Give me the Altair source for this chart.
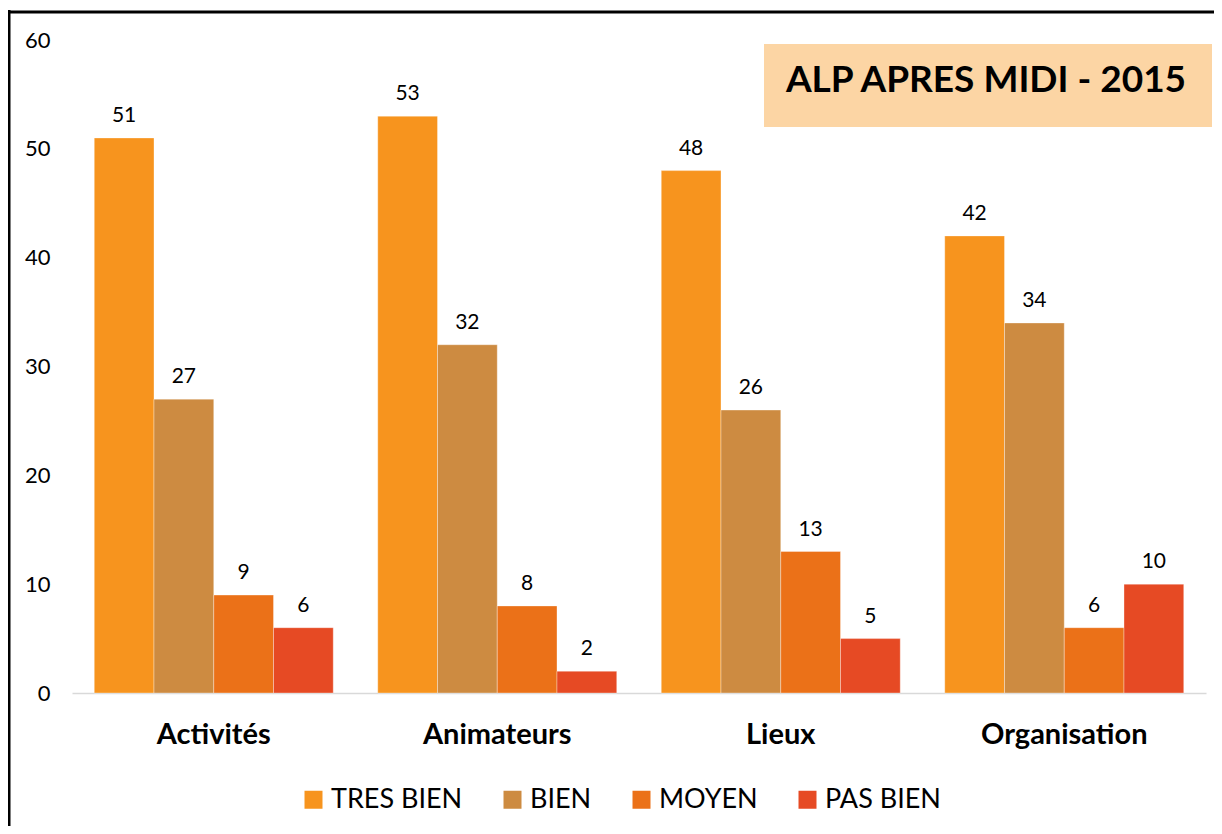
import altair as alt
import pandas as pd

categories = ["Activités", "Animateurs", "Lieux", "Organisation"]
series = ["TRES BIEN", "BIEN", "MOYEN", "PAS BIEN"]
tres_bien = [51, 53, 48, 42]
bien = [27, 32, 26, 34]
moyen = [9, 8, 13, 6]
pas_bien = [6, 2, 5, 10]
colors = ["#F7941E", "#CD8B41", "#EB7118", "#E64A24"]
title_text = "ALP APRES MIDI - 2015"

values = [tres_bien, bien, moyen, pas_bien]
rows = []
for s, vals in zip(series, values):
    for c, v in zip(categories, vals):
        rows.append({"cat": c, "serie": s, "value": v})
df = pd.DataFrame(rows)

FONT = "Lato"
W, H = 1134, 653
PAD = {"left": 64, "top": 32, "right": 8, "bottom": 133}

base = alt.Chart(df).encode(
    x=alt.X("cat:N", sort=categories, title=None,
            scale=alt.Scale(paddingInner=0.157, paddingOuter=0.0785),
            axis=alt.Axis(labelAngle=0, ticks=False, domainColor="#D9D9D9", domainWidth=1.5,
                          labelFont=FONT, labelFontWeight="bold", labelFontSize=29,
                          labelColor="#000000", labelPadding=27)),
    xOffset=alt.XOffset("serie:N", sort=series, scale=alt.Scale(paddingInner=0, paddingOuter=0)),
    y=alt.Y("value:Q", title=None, scale=alt.Scale(domain=[0, 60], nice=False),
            axis=alt.Axis(values=[0, 10, 20, 30, 40, 50, 60], domain=False, ticks=False, grid=False,
                          labelFont=FONT, labelFontSize=22, labelColor="#000000", labelPadding=22)),
)

bars = base.mark_bar(stroke="#FFFFFF", strokeWidth=0.75, strokeOpacity=0.45).encode(
    color=alt.Color("serie:N", sort=series,
                    scale=alt.Scale(domain=series, range=colors),
                    legend=alt.Legend(title=None, orient="none", direction="horizontal",
                                      legendX=228, legendY=746,
                                      symbolType="square", symbolSize=324, symbolStrokeWidth=0,
                                      labelFont=FONT, labelFontSize=27, labelColor="#000000",
                                      labelOffset=4, columnPadding=36))
)

labels = base.mark_text(dy=-16, baseline="alphabetic", font=FONT, fontSize=21, color="#000000").encode(
    text=alt.Text("value:Q")
)

one = alt.Chart(pd.DataFrame({"a": [0]}))
title_box = one.mark_rect(color="#FCD5A4").encode(
    x=alt.value(692), x2=alt.value(1140), y=alt.value(4), y2=alt.value(87)
)
title_mark = one.mark_text(font=FONT, fontSize=37, fontWeight="bold", color="#000000",
                           align="center", baseline="middle").encode(
    x=alt.value(914), y=alt.value(41), text=alt.value(title_text)
)
frame_left = one.mark_rule(color="#000000", strokeWidth=3).encode(
    x=alt.value(-63), y=alt.value(-30), y2=alt.value(H + PAD["bottom"])
)
frame_top = one.mark_rule(color="#000000", strokeWidth=3).encode(
    x=alt.value(-64.5), x2=alt.value(W + PAD["right"]), y=alt.value(-28)
)

chart = alt.layer(bars, labels, title_box, title_mark, frame_left, frame_top).properties(
    width=W, height=H,
    padding=PAD,
    autosize=alt.AutoSizeParams(type="none"),
    background="white",
).configure_view(stroke=None)

chart.save("out.html", embed_options={"renderer": "svg", "actions": False})
